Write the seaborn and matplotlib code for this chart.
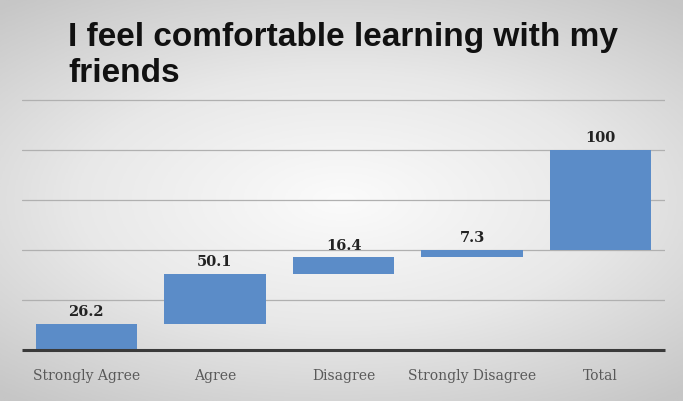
import numpy as np
import pandas as pd
import matplotlib
matplotlib.use("Agg")
import matplotlib.pyplot as plt
import seaborn as sns

categories = ["Strongly Agree", "Agree", "Disagree", "Strongly Disagree", "Total"]
values = [26.2, 50.1, 16.4, 7.3, 100]
bases = [0, 26.2, 76.3, 92.7, 100]
labels = ["26.2", "50.1", "16.4", "7.3", "100"]
title = "I feel comfortable learning with my\nfriends"

df = pd.DataFrame({"category": categories, "value": values, "base": bases})

sns.set_theme(style="white")
fig = plt.figure(figsize=(6.83, 4.02), dpi=100)

# radial gradient background
bg = fig.add_axes([0, 0, 1, 1], zorder=-10)
yy, xx = np.mgrid[-1:1:300j, -1:1:500j]
r = np.sqrt((xx * 0.9) ** 2 + (yy * 1.1) ** 2)
bg.imshow(r, cmap=matplotlib.colors.LinearSegmentedColormap.from_list(
    "g", ["#fbfbfb", "#e8e8e8", "#c6c6c6"]), vmin=0, vmax=1.4,
    extent=[0, 1, 0, 1], aspect="auto", interpolation="bilinear")
bg.axis("off")

ax = fig.add_axes([22 / 683, 1 - 351 / 402, 643 / 683, 252 / 402])
ax.patch.set_alpha(0)
sns.barplot(data=df, x="category", y="value", color="#5b8cc8", saturation=1,
            width=0.79, ax=ax, zorder=3)
for p, b in zip(ax.patches, df["base"]):
    p.set_y(b)
    p.set_edgecolor("none")

ax.set_ylim(0, 252)
ax.set_xlim(-0.5, 4.5)
for g in [50, 100, 150, 200, 250]:
    ax.axhline(g, color="#b0b0b0", lw=0.9, zorder=1)
ax.axhline(0, color="#3a3a3a", lw=2.2, zorder=4, clip_on=False,
           solid_capstyle="butt")
for s in ax.spines.values():
    s.set_visible(False)
ax.set_yticks([])
ax.set_xlabel("")
ax.set_ylabel("")
ax.tick_params(axis="x", length=0, pad=13)
for t in ax.get_xticklabels():
    t.set_fontfamily("DejaVu Serif")
    t.set_fontsize(10)
    t.set_color("#595959")

for i, (v, b, lab) in enumerate(zip(values, bases, labels)):
    ax.annotate(lab, (i, v + b), xytext=(0, 4), textcoords="offset points",
                ha="center", va="bottom", fontsize=10.5, fontweight="bold",
                family="DejaVu Serif", color="#222222")

fig.text(68 / 683, 1 - 22 / 402, title, ha="left", va="top",
         fontsize=24, fontweight="bold", family="Liberation Sans",
         color="#111111", linespacing=1.22)

fig.savefig("out.png", dpi=100)
